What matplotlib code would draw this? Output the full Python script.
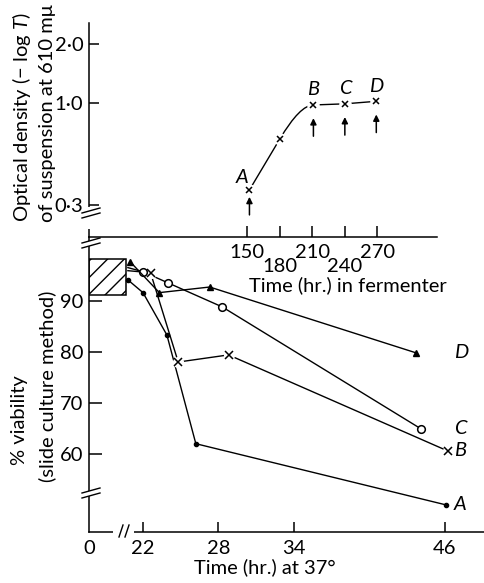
import numpy as np
import matplotlib
matplotlib.use("Agg")
import matplotlib.pyplot as plt
from matplotlib.patches import Rectangle, Polygon, PathPatch
from matplotlib.path import Path
from matplotlib.lines import Line2D
from matplotlib.ticker import NullLocator

plt.rcParams["font.family"] = ["Lato", "DejaVu Sans"]
plt.rcParams["font.size"] = 14.5
plt.rcParams["mathtext.fontset"] = "custom"
plt.rcParams["mathtext.it"] = "Lato:italic"
plt.rcParams["mathtext.rm"] = "Lato"
plt.rcParams["hatch.linewidth"] = 1.0

# growth in the fermenter (optical density, log scale)
ferm_hours = [152, 180, 211, 240, 269]
ferm_od = [0.36, 0.655, 0.977, 0.99, 1.02]
harvest_idx = [0, 2, 3, 4]
harvest_names = ["A", "B", "C", "D"]

# viability at 37 deg for each harvest
hours_A = [20.8, 22.0, 23.9, 26.2, 46.1]
via_A = [94.1, 91.6, 83.3, 62.0, 50.0]
hours_B = [20.8, 22.6, 24.8, 28.8, 46.2]
via_B = [95.9, 95.5, 78.0, 79.4, 60.6]
hours_C = [20.8, 22.0, 24.0, 28.3, 44.1]
via_C = [96.5, 95.7, 93.5, 88.8, 64.9]
hours_D = [21.0, 23.3, 27.3, 43.7]
via_D = [97.6, 91.6, 92.7, 79.8]

# initial viability range at 0 hr (hatched box)
start_range = (91.2, 98.2)
start_end = 20.65

W, H = 484, 583
fig = plt.figure(figsize=(W / 100, H / 100), dpi=100)


def box(x0, y0, x1, y1):
    return [x0 / W, 1 - y1 / H, (x1 - x0) / W, (y1 - y0) / H]


def px(x, y):
    return (x / W, 1 - y / H)


ax_top = fig.add_axes(box(89, 23, 437, 237))
ax_bot = fig.add_axes(box(89, 237, 484, 532))
for ax in (ax_top, ax_bot):
    ax.set_facecolor("none")
    ax.spines["top"].set_visible(False)
    ax.spines["right"].set_visible(False)
    ax.spines["left"].set_linewidth(1.1)
    ax.spines["bottom"].set_linewidth(1.1)

# ---- top panel ----
ax_top.set_yscale("log")
ax_top.set_xlim(4, 325)
ax_top.set_ylim(0.207, 2.56)
ax_top.set_yticks([0.3, 1.0, 2.0], labels=["0\u00b73", "1\u00b70", "2\u00b70"])
ax_top.yaxis.set_minor_locator(NullLocator())
ax_top.tick_params(axis="y", direction="in", length=7, width=1.1, pad=4)
ax_top.set_xticks([150, 210, 270], labels=["150", "210", "270"])
ax_top.set_xticks([180, 240], labels=["180", "240"], minor=True)
ax_top.tick_params(axis="x", which="both", direction="in", length=8, width=1.1)
ax_top.tick_params(axis="x", which="major", pad=5)
ax_top.tick_params(axis="x", which="minor", pad=15)

ax_top.plot(ferm_hours[:2], ferm_od[:2], color="k", lw=1.0, zorder=2)
la, lm, lb = np.log10(ferm_od[:3])
t_ctrl = ferm_hours[0] + (lb - la) * (ferm_hours[1] - ferm_hours[0]) / (lm - la)
bend = Path([(ferm_hours[1], ferm_od[1]), (t_ctrl, ferm_od[2]), (ferm_hours[2], ferm_od[2])],
            [Path.MOVETO, Path.CURVE3, Path.CURVE3])
ax_top.add_patch(PathPatch(bend, fill=False, lw=1.0, color="k", zorder=2))
ax_top.plot(ferm_hours[2:], ferm_od[2:], color="k", lw=1.0, zorder=2)
ax_top.plot(ferm_hours, ferm_od, "o", ms=8, color="white", zorder=3)
ax_top.plot(ferm_hours, ferm_od, "x", ms=5, mew=1.1, color="k", zorder=4)

for i, name in zip(harvest_idx, harvest_names):
    h, o = ferm_hours[i], ferm_od[i]
    tip, tail = (5, 18) if i == 0 else (9.5, 22.5)
    ax_top.annotate("", xy=(h, o), xytext=(0, -tail), textcoords="offset points",
                    arrowprops=dict(arrowstyle="-|>", color="k", lw=1.1,
                                    shrinkA=0, shrinkB=tip, mutation_scale=9))
    off = (-5, 9) if i == 0 else (0, 11)
    ax_top.annotate(name, xy=(h, o), xytext=off, textcoords="offset points",
                    ha="center", va="center", style="italic")

# ---- bottom panel ----
ax_bot.set_xlim(17.71, 49.1)
ax_bot.set_ylim(44.7, 102.5)
ax_bot.set_yticks([60, 70, 80, 90])
ax_bot.tick_params(axis="y", direction="in", length=9.5, width=1.1, pad=4)
ax_bot.set_xticks([22, 28, 34, 46])
ax_bot.set_xticks([17.71], labels=["0"], minor=True)
ax_bot.tick_params(axis="x", which="both", direction="in", length=7, width=1.1, pad=6)
ax_bot.tick_params(axis="x", which="minor", length=0)

ax_bot.add_patch(Rectangle((17.71, start_range[0]), start_end - 17.71,
                           start_range[1] - start_range[0],
                           fill=False, hatch="//", lw=1.1, color="k"))

ax_bot.plot(hours_A, via_A, "-o", color="k", lw=1.0, ms=3, zorder=2)
ax_bot.plot(hours_B, via_B, "-", color="k", lw=1.0, zorder=2)
ax_bot.plot(hours_B[1:], via_B[1:], "o", ms=7, color="white", zorder=3)
ax_bot.plot(hours_B[1:], via_B[1:], "x", ms=5.5, mew=1.1, color="k", zorder=4)
ax_bot.plot(hours_C, via_C, "-", color="k", lw=1.0, zorder=2)
ax_bot.plot(hours_C[1:], via_C[1:], "o", ms=5.5, mfc="white", mec="k", mew=1.1, zorder=3)
ax_bot.plot(hours_D, via_D, "-^", color="k", lw=1.0, ms=5, zorder=3)

for name, v in zip("ABCD", [via_A[-1], via_B[-1], via_C[-1], via_D[-1]]):
    ax_bot.text(46.7, v, name, ha="left", va="center", style="italic")

# ---- axis labels ----
fig.text(*px(22, 117), "Optical density (\u2212 log $T$)", rotation=90,
         ha="center", va="center")
fig.text(*px(48, 113), "of suspension at 610 m\u03bc", rotation=90,
         ha="center", va="center")
fig.text(*px(348, 285), "Time (hr.) in fermenter", ha="center", va="center")
fig.text(*px(20, 420), "% viability", rotation=90, ha="center", va="center")
fig.text(*px(47, 386), "(slide culture method)", rotation=90, ha="center", va="center")
fig.text(*px(265, 567), "Time (hr.) at 37\u00b0", ha="center", va="center")


# ---- axis breaks ----
def vbreak(y):
    pts = [px(82, y), px(100, y - 5), px(100, y), px(82, y + 5)]
    fig.add_artist(Polygon(pts, closed=True, facecolor="white", edgecolor="none",
                           transform=fig.transFigure, zorder=10))
    for dy in (0, 5):
        a, b = px(82, y + dy), px(100, y - 5 + dy)
        fig.add_artist(Line2D([a[0], b[0]], [a[1], b[1]], color="k", lw=1.0,
                              transform=fig.transFigure, zorder=11))


def white_box(x0, y0, x1, y1):
    a = px(x0, y1)
    fig.add_artist(Rectangle(a, (x1 - x0) / W, (y1 - y0) / H, facecolor="white",
                             edgecolor="none", transform=fig.transFigure, zorder=10))


white_box(85, 207, 94, 229)
vbreak(213)
vbreak(243)
vbreak(493)

white_box(113, 528, 134, 536)
for x in (119, 125):
    a, b = px(x, 537), px(x + 4, 525)
    fig.add_artist(Line2D([a[0], b[0]], [a[1], b[1]], color="k", lw=1.0,
                          transform=fig.transFigure, zorder=11))

fig.savefig("out.png", dpi=100)
